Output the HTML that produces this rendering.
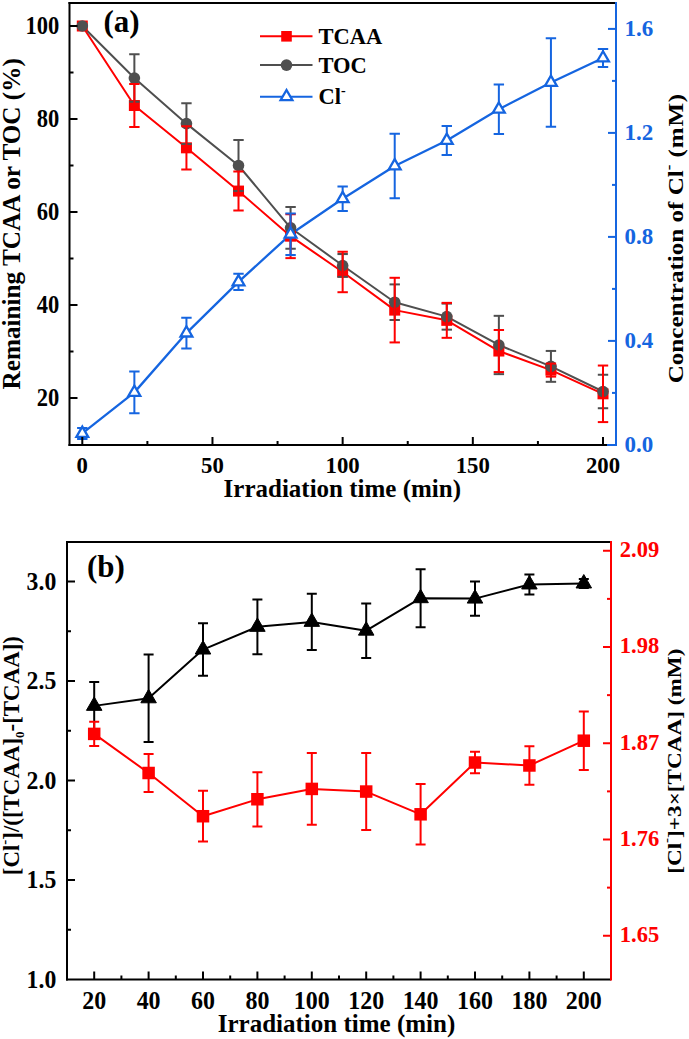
<!DOCTYPE html>
<html><head><meta charset="utf-8"><style>
html,body{margin:0;padding:0;background:#fff;}
svg{display:block;}
text{font-family:"Liberation Serif", serif;font-weight:bold;}
</style></head><body>
<svg width="689" height="1039" viewBox="0 0 689 1039">
<defs>
<clipPath id="clipA"><rect x="69.5" y="3" width="546.5" height="442"/></clipPath>
<clipPath id="clipB"><rect x="67" y="542" width="544" height="437.5"/></clipPath>
</defs>
<rect width="689" height="1039" fill="#fff"/>
<g clip-path="url(#clipA)">
<polyline points="82.30,26.00 134.37,105.51 186.44,147.83 238.51,191.07 290.58,236.18 342.65,271.99 394.72,310.12 446.79,320.35 498.86,351.03 550.93,370.10 603.00,393.82" fill="none" stroke="#ff0000" stroke-width="2" stroke-linejoin="round"/>
<polyline points="82.30,26.00 134.37,78.08 186.44,123.65 238.51,165.50 290.58,227.81 342.65,265.48 394.72,302.21 446.79,316.62 498.86,344.99 550.93,366.38 603.00,391.49" fill="none" stroke="#4f4f4f" stroke-width="2" stroke-linejoin="round"/>
<polyline points="82.30,433.46 134.37,392.38 186.44,333.10 238.51,281.88 290.58,234.30 342.65,198.68 394.72,165.92 446.79,140.44 498.86,109.24 550.93,82.46 603.00,58.02" fill="none" stroke="#1565e0" stroke-width="2.3" stroke-linejoin="round"/>
<rect x="76.80" y="20.50" width="11" height="11" fill="#ff0000"/>
<rect x="128.87" y="100.01" width="11" height="11" fill="#ff0000"/>
<rect x="180.94" y="142.33" width="11" height="11" fill="#ff0000"/>
<rect x="233.01" y="185.57" width="11" height="11" fill="#ff0000"/>
<rect x="285.08" y="230.68" width="11" height="11" fill="#ff0000"/>
<rect x="337.15" y="266.49" width="11" height="11" fill="#ff0000"/>
<rect x="389.22" y="304.62" width="11" height="11" fill="#ff0000"/>
<rect x="441.29" y="314.85" width="11" height="11" fill="#ff0000"/>
<rect x="493.36" y="345.53" width="11" height="11" fill="#ff0000"/>
<rect x="545.43" y="364.60" width="11" height="11" fill="#ff0000"/>
<rect x="597.50" y="388.32" width="11" height="11" fill="#ff0000"/>
<circle cx="82.30" cy="26.00" r="5.8" fill="#4f4f4f"/>
<circle cx="134.37" cy="78.08" r="5.8" fill="#4f4f4f"/>
<circle cx="186.44" cy="123.65" r="5.8" fill="#4f4f4f"/>
<circle cx="238.51" cy="165.50" r="5.8" fill="#4f4f4f"/>
<circle cx="290.58" cy="227.81" r="5.8" fill="#4f4f4f"/>
<circle cx="342.65" cy="265.48" r="5.8" fill="#4f4f4f"/>
<circle cx="394.72" cy="302.21" r="5.8" fill="#4f4f4f"/>
<circle cx="446.79" cy="316.62" r="5.8" fill="#4f4f4f"/>
<circle cx="498.86" cy="344.99" r="5.8" fill="#4f4f4f"/>
<circle cx="550.93" cy="366.38" r="5.8" fill="#4f4f4f"/>
<circle cx="603.00" cy="391.49" r="5.8" fill="#4f4f4f"/>
<line x1="134.37" y1="101.79" x2="134.37" y2="54.37" stroke="#4f4f4f" stroke-width="2" />
<line x1="129.17" y1="101.79" x2="139.57" y2="101.79" stroke="#4f4f4f" stroke-width="2" />
<line x1="129.17" y1="54.37" x2="139.57" y2="54.37" stroke="#4f4f4f" stroke-width="2" />
<line x1="186.44" y1="144.11" x2="186.44" y2="103.19" stroke="#4f4f4f" stroke-width="2" />
<line x1="181.24" y1="144.11" x2="191.64" y2="144.11" stroke="#4f4f4f" stroke-width="2" />
<line x1="181.24" y1="103.19" x2="191.64" y2="103.19" stroke="#4f4f4f" stroke-width="2" />
<line x1="238.51" y1="191.07" x2="238.51" y2="139.93" stroke="#4f4f4f" stroke-width="2" />
<line x1="233.31" y1="191.07" x2="243.71" y2="191.07" stroke="#4f4f4f" stroke-width="2" />
<line x1="233.31" y1="139.93" x2="243.71" y2="139.93" stroke="#4f4f4f" stroke-width="2" />
<line x1="290.58" y1="248.74" x2="290.58" y2="206.88" stroke="#4f4f4f" stroke-width="2" />
<line x1="285.38" y1="248.74" x2="295.78" y2="248.74" stroke="#4f4f4f" stroke-width="2" />
<line x1="285.38" y1="206.88" x2="295.78" y2="206.88" stroke="#4f4f4f" stroke-width="2" />
<line x1="342.65" y1="276.87" x2="342.65" y2="254.08" stroke="#4f4f4f" stroke-width="2" />
<line x1="337.45" y1="276.87" x2="347.85" y2="276.87" stroke="#4f4f4f" stroke-width="2" />
<line x1="337.45" y1="254.08" x2="347.85" y2="254.08" stroke="#4f4f4f" stroke-width="2" />
<line x1="394.72" y1="320.02" x2="394.72" y2="284.40" stroke="#4f4f4f" stroke-width="2" />
<line x1="389.52" y1="320.02" x2="399.92" y2="320.02" stroke="#4f4f4f" stroke-width="2" />
<line x1="389.52" y1="284.40" x2="399.92" y2="284.40" stroke="#4f4f4f" stroke-width="2" />
<line x1="446.79" y1="329.64" x2="446.79" y2="303.61" stroke="#4f4f4f" stroke-width="2" />
<line x1="441.59" y1="329.64" x2="451.99" y2="329.64" stroke="#4f4f4f" stroke-width="2" />
<line x1="441.59" y1="303.61" x2="451.99" y2="303.61" stroke="#4f4f4f" stroke-width="2" />
<line x1="498.86" y1="374.15" x2="498.86" y2="315.83" stroke="#4f4f4f" stroke-width="2" />
<line x1="493.66" y1="374.15" x2="504.06" y2="374.15" stroke="#4f4f4f" stroke-width="2" />
<line x1="493.66" y1="315.83" x2="504.06" y2="315.83" stroke="#4f4f4f" stroke-width="2" />
<line x1="550.93" y1="381.82" x2="550.93" y2="350.94" stroke="#4f4f4f" stroke-width="2" />
<line x1="545.73" y1="381.82" x2="556.13" y2="381.82" stroke="#4f4f4f" stroke-width="2" />
<line x1="545.73" y1="350.94" x2="556.13" y2="350.94" stroke="#4f4f4f" stroke-width="2" />
<line x1="603.00" y1="408.23" x2="603.00" y2="374.75" stroke="#4f4f4f" stroke-width="2" />
<line x1="597.80" y1="408.23" x2="608.20" y2="408.23" stroke="#4f4f4f" stroke-width="2" />
<line x1="597.80" y1="374.75" x2="608.20" y2="374.75" stroke="#4f4f4f" stroke-width="2" />
<line x1="134.37" y1="126.90" x2="134.37" y2="84.12" stroke="#ff0000" stroke-width="2" />
<line x1="129.17" y1="126.90" x2="139.57" y2="126.90" stroke="#ff0000" stroke-width="2" />
<line x1="129.17" y1="84.12" x2="139.57" y2="84.12" stroke="#ff0000" stroke-width="2" />
<line x1="186.44" y1="169.45" x2="186.44" y2="126.21" stroke="#ff0000" stroke-width="2" />
<line x1="181.24" y1="169.45" x2="191.64" y2="169.45" stroke="#ff0000" stroke-width="2" />
<line x1="181.24" y1="126.21" x2="191.64" y2="126.21" stroke="#ff0000" stroke-width="2" />
<line x1="238.51" y1="210.61" x2="238.51" y2="171.54" stroke="#ff0000" stroke-width="2" />
<line x1="233.31" y1="210.61" x2="243.71" y2="210.61" stroke="#ff0000" stroke-width="2" />
<line x1="233.31" y1="171.54" x2="243.71" y2="171.54" stroke="#ff0000" stroke-width="2" />
<line x1="290.58" y1="258.13" x2="290.58" y2="214.23" stroke="#ff0000" stroke-width="2" />
<line x1="285.38" y1="258.13" x2="295.78" y2="258.13" stroke="#ff0000" stroke-width="2" />
<line x1="285.38" y1="214.23" x2="295.78" y2="214.23" stroke="#ff0000" stroke-width="2" />
<line x1="342.65" y1="292.21" x2="342.65" y2="251.76" stroke="#ff0000" stroke-width="2" />
<line x1="337.45" y1="292.21" x2="347.85" y2="292.21" stroke="#ff0000" stroke-width="2" />
<line x1="337.45" y1="251.76" x2="347.85" y2="251.76" stroke="#ff0000" stroke-width="2" />
<line x1="394.72" y1="342.43" x2="394.72" y2="277.80" stroke="#ff0000" stroke-width="2" />
<line x1="389.52" y1="342.43" x2="399.92" y2="342.43" stroke="#ff0000" stroke-width="2" />
<line x1="389.52" y1="277.80" x2="399.92" y2="277.80" stroke="#ff0000" stroke-width="2" />
<line x1="446.79" y1="337.83" x2="446.79" y2="302.86" stroke="#ff0000" stroke-width="2" />
<line x1="441.59" y1="337.83" x2="451.99" y2="337.83" stroke="#ff0000" stroke-width="2" />
<line x1="441.59" y1="302.86" x2="451.99" y2="302.86" stroke="#ff0000" stroke-width="2" />
<line x1="498.86" y1="372.05" x2="498.86" y2="330.02" stroke="#ff0000" stroke-width="2" />
<line x1="493.66" y1="372.05" x2="504.06" y2="372.05" stroke="#ff0000" stroke-width="2" />
<line x1="493.66" y1="330.02" x2="504.06" y2="330.02" stroke="#ff0000" stroke-width="2" />
<line x1="550.93" y1="376.61" x2="550.93" y2="363.59" stroke="#ff0000" stroke-width="2" />
<line x1="545.73" y1="376.61" x2="556.13" y2="376.61" stroke="#ff0000" stroke-width="2" />
<line x1="545.73" y1="363.59" x2="556.13" y2="363.59" stroke="#ff0000" stroke-width="2" />
<line x1="603.00" y1="422.09" x2="603.00" y2="365.54" stroke="#ff0000" stroke-width="2" />
<line x1="597.80" y1="422.09" x2="608.20" y2="422.09" stroke="#ff0000" stroke-width="2" />
<line x1="597.80" y1="365.54" x2="608.20" y2="365.54" stroke="#ff0000" stroke-width="2" />
<line x1="82.30" y1="438.92" x2="82.30" y2="428.00" stroke="#1565e0" stroke-width="2" />
<line x1="77.10" y1="438.92" x2="87.50" y2="438.92" stroke="#1565e0" stroke-width="2" />
<line x1="77.10" y1="428.00" x2="87.50" y2="428.00" stroke="#1565e0" stroke-width="2" />
<line x1="134.37" y1="413.18" x2="134.37" y2="371.58" stroke="#1565e0" stroke-width="2" />
<line x1="129.17" y1="413.18" x2="139.57" y2="413.18" stroke="#1565e0" stroke-width="2" />
<line x1="129.17" y1="371.58" x2="139.57" y2="371.58" stroke="#1565e0" stroke-width="2" />
<line x1="186.44" y1="348.44" x2="186.44" y2="317.76" stroke="#1565e0" stroke-width="2" />
<line x1="181.24" y1="348.44" x2="191.64" y2="348.44" stroke="#1565e0" stroke-width="2" />
<line x1="181.24" y1="317.76" x2="191.64" y2="317.76" stroke="#1565e0" stroke-width="2" />
<line x1="238.51" y1="289.94" x2="238.51" y2="273.82" stroke="#1565e0" stroke-width="2" />
<line x1="233.31" y1="289.94" x2="243.71" y2="289.94" stroke="#1565e0" stroke-width="2" />
<line x1="233.31" y1="273.82" x2="243.71" y2="273.82" stroke="#1565e0" stroke-width="2" />
<line x1="290.58" y1="255.10" x2="290.58" y2="213.50" stroke="#1565e0" stroke-width="2" />
<line x1="285.38" y1="255.10" x2="295.78" y2="255.10" stroke="#1565e0" stroke-width="2" />
<line x1="285.38" y1="213.50" x2="295.78" y2="213.50" stroke="#1565e0" stroke-width="2" />
<line x1="342.65" y1="210.90" x2="342.65" y2="186.46" stroke="#1565e0" stroke-width="2" />
<line x1="337.45" y1="210.90" x2="347.85" y2="210.90" stroke="#1565e0" stroke-width="2" />
<line x1="337.45" y1="186.46" x2="347.85" y2="186.46" stroke="#1565e0" stroke-width="2" />
<line x1="394.72" y1="198.16" x2="394.72" y2="133.68" stroke="#1565e0" stroke-width="2" />
<line x1="389.52" y1="198.16" x2="399.92" y2="198.16" stroke="#1565e0" stroke-width="2" />
<line x1="389.52" y1="133.68" x2="399.92" y2="133.68" stroke="#1565e0" stroke-width="2" />
<line x1="446.79" y1="155.00" x2="446.79" y2="125.88" stroke="#1565e0" stroke-width="2" />
<line x1="441.59" y1="155.00" x2="451.99" y2="155.00" stroke="#1565e0" stroke-width="2" />
<line x1="441.59" y1="125.88" x2="451.99" y2="125.88" stroke="#1565e0" stroke-width="2" />
<line x1="498.86" y1="133.94" x2="498.86" y2="84.54" stroke="#1565e0" stroke-width="2" />
<line x1="493.66" y1="133.94" x2="504.06" y2="133.94" stroke="#1565e0" stroke-width="2" />
<line x1="493.66" y1="84.54" x2="504.06" y2="84.54" stroke="#1565e0" stroke-width="2" />
<line x1="550.93" y1="126.66" x2="550.93" y2="38.26" stroke="#1565e0" stroke-width="2" />
<line x1="545.73" y1="126.66" x2="556.13" y2="126.66" stroke="#1565e0" stroke-width="2" />
<line x1="545.73" y1="38.26" x2="556.13" y2="38.26" stroke="#1565e0" stroke-width="2" />
<line x1="603.00" y1="67.12" x2="603.00" y2="48.92" stroke="#1565e0" stroke-width="2" />
<line x1="597.80" y1="67.12" x2="608.20" y2="67.12" stroke="#1565e0" stroke-width="2" />
<line x1="597.80" y1="48.92" x2="608.20" y2="48.92" stroke="#1565e0" stroke-width="2" />
<polygon points="82.30,426.65 76.40,436.87 88.20,436.87" fill="#fff" stroke="#1565e0" stroke-width="2.3" stroke-linejoin="miter"/>
<polygon points="134.37,385.57 128.47,395.79 140.27,395.79" fill="#fff" stroke="#1565e0" stroke-width="2.3" stroke-linejoin="miter"/>
<polygon points="186.44,326.29 180.54,336.51 192.34,336.51" fill="#fff" stroke="#1565e0" stroke-width="2.3" stroke-linejoin="miter"/>
<polygon points="238.51,275.07 232.61,285.29 244.41,285.29" fill="#fff" stroke="#1565e0" stroke-width="2.3" stroke-linejoin="miter"/>
<polygon points="290.58,227.49 284.68,237.71 296.48,237.71" fill="#fff" stroke="#1565e0" stroke-width="2.3" stroke-linejoin="miter"/>
<polygon points="342.65,191.87 336.75,202.09 348.55,202.09" fill="#fff" stroke="#1565e0" stroke-width="2.3" stroke-linejoin="miter"/>
<polygon points="394.72,159.11 388.82,169.33 400.62,169.33" fill="#fff" stroke="#1565e0" stroke-width="2.3" stroke-linejoin="miter"/>
<polygon points="446.79,133.63 440.89,143.85 452.69,143.85" fill="#fff" stroke="#1565e0" stroke-width="2.3" stroke-linejoin="miter"/>
<polygon points="498.86,102.43 492.96,112.65 504.76,112.65" fill="#fff" stroke="#1565e0" stroke-width="2.3" stroke-linejoin="miter"/>
<polygon points="550.93,75.65 545.03,85.87 556.83,85.87" fill="#fff" stroke="#1565e0" stroke-width="2.3" stroke-linejoin="miter"/>
<polygon points="603.00,51.21 597.10,61.43 608.90,61.43" fill="#fff" stroke="#1565e0" stroke-width="2.3" stroke-linejoin="miter"/>
</g>
<line x1="82.30" y1="445.00" x2="82.30" y2="437.00" stroke="#000000" stroke-width="2" />
<line x1="147.39" y1="445.00" x2="147.39" y2="441.00" stroke="#000000" stroke-width="2" />
<line x1="212.47" y1="445.00" x2="212.47" y2="437.00" stroke="#000000" stroke-width="2" />
<line x1="277.56" y1="445.00" x2="277.56" y2="441.00" stroke="#000000" stroke-width="2" />
<line x1="342.65" y1="445.00" x2="342.65" y2="437.00" stroke="#000000" stroke-width="2" />
<line x1="407.74" y1="445.00" x2="407.74" y2="441.00" stroke="#000000" stroke-width="2" />
<line x1="472.82" y1="445.00" x2="472.82" y2="437.00" stroke="#000000" stroke-width="2" />
<line x1="537.91" y1="445.00" x2="537.91" y2="441.00" stroke="#000000" stroke-width="2" />
<line x1="603.00" y1="445.00" x2="603.00" y2="437.00" stroke="#000000" stroke-width="2" />
<line x1="69.50" y1="398.00" x2="77.50" y2="398.00" stroke="#000000" stroke-width="2" />
<line x1="69.50" y1="351.50" x2="73.50" y2="351.50" stroke="#000000" stroke-width="2" />
<line x1="69.50" y1="305.00" x2="77.50" y2="305.00" stroke="#000000" stroke-width="2" />
<line x1="69.50" y1="258.50" x2="73.50" y2="258.50" stroke="#000000" stroke-width="2" />
<line x1="69.50" y1="212.00" x2="77.50" y2="212.00" stroke="#000000" stroke-width="2" />
<line x1="69.50" y1="165.50" x2="73.50" y2="165.50" stroke="#000000" stroke-width="2" />
<line x1="69.50" y1="119.00" x2="77.50" y2="119.00" stroke="#000000" stroke-width="2" />
<line x1="69.50" y1="72.50" x2="73.50" y2="72.50" stroke="#000000" stroke-width="2" />
<line x1="69.50" y1="26.00" x2="77.50" y2="26.00" stroke="#000000" stroke-width="2" />
<line x1="616.00" y1="392.90" x2="612.00" y2="392.90" stroke="#1565e0" stroke-width="2" />
<line x1="616.00" y1="340.90" x2="608.00" y2="340.90" stroke="#1565e0" stroke-width="2" />
<line x1="616.00" y1="288.90" x2="612.00" y2="288.90" stroke="#1565e0" stroke-width="2" />
<line x1="616.00" y1="236.90" x2="608.00" y2="236.90" stroke="#1565e0" stroke-width="2" />
<line x1="616.00" y1="184.90" x2="612.00" y2="184.90" stroke="#1565e0" stroke-width="2" />
<line x1="616.00" y1="132.90" x2="608.00" y2="132.90" stroke="#1565e0" stroke-width="2" />
<line x1="616.00" y1="80.90" x2="612.00" y2="80.90" stroke="#1565e0" stroke-width="2" />
<line x1="616.00" y1="28.90" x2="608.00" y2="28.90" stroke="#1565e0" stroke-width="2" />
<line x1="68.50" y1="3.00" x2="616.00" y2="3.00" stroke="#000000" stroke-width="2" />
<line x1="69.50" y1="2.00" x2="69.50" y2="446.00" stroke="#000000" stroke-width="2" />
<line x1="68.50" y1="445.00" x2="607.00" y2="445.00" stroke="#000000" stroke-width="2" />
<line x1="607.00" y1="445.00" x2="617.00" y2="445.00" stroke="#1565e0" stroke-width="2" />
<line x1="616.00" y1="2.00" x2="616.00" y2="446.00" stroke="#1565e0" stroke-width="2" />
<text transform="translate(82.30,472.80) scale(0.95,1)" font-size="24" fill="#000" text-anchor="middle" >0</text>
<text transform="translate(212.47,472.80) scale(0.95,1)" font-size="24" fill="#000" text-anchor="middle" >50</text>
<text transform="translate(342.65,472.80) scale(0.95,1)" font-size="24" fill="#000" text-anchor="middle" >100</text>
<text transform="translate(472.82,472.80) scale(0.95,1)" font-size="24" fill="#000" text-anchor="middle" >150</text>
<text transform="translate(603.00,472.80) scale(0.95,1)" font-size="24" fill="#000" text-anchor="middle" >200</text>
<text transform="translate(59.30,405.70) scale(0.92,1)" font-size="24.5" fill="#000" text-anchor="end" >20</text>
<text transform="translate(59.30,312.70) scale(0.92,1)" font-size="24.5" fill="#000" text-anchor="end" >40</text>
<text transform="translate(59.30,219.70) scale(0.92,1)" font-size="24.5" fill="#000" text-anchor="end" >60</text>
<text transform="translate(59.30,126.70) scale(0.92,1)" font-size="24.5" fill="#000" text-anchor="end" >80</text>
<text transform="translate(59.30,33.70) scale(0.92,1)" font-size="24.5" fill="#000" text-anchor="end" >100</text>
<text x="624.50" y="451.70" font-size="23" fill="#1565e0" text-anchor="start" >0.0</text>
<text x="624.50" y="347.70" font-size="23" fill="#1565e0" text-anchor="start" >0.4</text>
<text x="624.50" y="243.70" font-size="23" fill="#1565e0" text-anchor="start" >0.8</text>
<text x="624.50" y="139.70" font-size="23" fill="#1565e0" text-anchor="start" >1.2</text>
<text x="624.50" y="35.70" font-size="23" fill="#1565e0" text-anchor="start" >1.6</text>
<text x="342.30" y="496.60" font-size="25" fill="#000" text-anchor="middle" >Irradiation time (min)</text>
<text transform="translate(20.2,223.8) rotate(-90)" font-size="25.2" text-anchor="middle">Remaining TCAA or TOC (%)</text>
<text transform="translate(682.6,383.3) rotate(-90) scale(1,0.84)" font-size="25.1" text-anchor="start">Concentration of Cl<tspan font-size="17" dy="-12">-</tspan><tspan dy="12" letter-spacing="0.8"> (mM)</tspan></text>
<text x="103.50" y="31.50" font-size="31" fill="#000" text-anchor="start" >(a)</text>
<line x1="260.00" y1="36.30" x2="312.50" y2="36.30" stroke="#ff0000" stroke-width="2" />
<rect x="281.2" y="30.999999999999996" width="10.6" height="10.6" fill="#ff0000"/>
<text x="318.4" y="43.8" font-size="22.5">TCAA</text>
<line x1="260.00" y1="65.10" x2="312.50" y2="65.10" stroke="#4f4f4f" stroke-width="2" />
<circle cx="286.5" cy="65.1" r="5.8" fill="#4f4f4f"/>
<text x="318.4" y="72.6" font-size="22.5">TOC</text>
<line x1="260.00" y1="96.80" x2="312.50" y2="96.80" stroke="#1565e0" stroke-width="2" />
<polygon points="286.50,89.99 280.60,100.21 292.40,100.21" fill="#fff" stroke="#1565e0" stroke-width="2.3" stroke-linejoin="miter"/>
<text x="318.4" y="104.3" font-size="22.5">Cl<tspan font-size="14" dy="-9">-</tspan></text>
<g clip-path="url(#clipB)">
<polyline points="94.20,705.88 148.60,698.31 203.00,649.56 257.40,626.87 311.80,621.90 366.20,630.65 420.60,598.22 475.00,598.61 529.40,584.49 583.80,583.49" fill="none" stroke="#000000" stroke-width="2" stroke-linejoin="round"/>
<polyline points="94.20,733.89 148.60,773.00 203.00,816.23 257.40,799.25 311.80,788.92 366.20,791.55 420.60,814.30 475.00,762.50 529.40,765.48 583.80,740.71" fill="none" stroke="#ff0000" stroke-width="2" stroke-linejoin="round"/>
<line x1="94.20" y1="729.75" x2="94.20" y2="682.00" stroke="#000000" stroke-width="2" />
<line x1="89.20" y1="729.75" x2="99.20" y2="729.75" stroke="#000000" stroke-width="2" />
<line x1="89.20" y1="682.00" x2="99.20" y2="682.00" stroke="#000000" stroke-width="2" />
<line x1="148.60" y1="742.09" x2="148.60" y2="654.53" stroke="#000000" stroke-width="2" />
<line x1="143.60" y1="742.09" x2="153.60" y2="742.09" stroke="#000000" stroke-width="2" />
<line x1="143.60" y1="654.53" x2="153.60" y2="654.53" stroke="#000000" stroke-width="2" />
<line x1="203.00" y1="675.83" x2="203.00" y2="623.29" stroke="#000000" stroke-width="2" />
<line x1="198.00" y1="675.83" x2="208.00" y2="675.83" stroke="#000000" stroke-width="2" />
<line x1="198.00" y1="623.29" x2="208.00" y2="623.29" stroke="#000000" stroke-width="2" />
<line x1="257.40" y1="654.33" x2="257.40" y2="599.41" stroke="#000000" stroke-width="2" />
<line x1="252.40" y1="654.33" x2="262.40" y2="654.33" stroke="#000000" stroke-width="2" />
<line x1="252.40" y1="599.41" x2="262.40" y2="599.41" stroke="#000000" stroke-width="2" />
<line x1="311.80" y1="649.96" x2="311.80" y2="593.84" stroke="#000000" stroke-width="2" />
<line x1="306.80" y1="649.96" x2="316.80" y2="649.96" stroke="#000000" stroke-width="2" />
<line x1="306.80" y1="593.84" x2="316.80" y2="593.84" stroke="#000000" stroke-width="2" />
<line x1="366.20" y1="657.92" x2="366.20" y2="603.39" stroke="#000000" stroke-width="2" />
<line x1="361.20" y1="657.92" x2="371.20" y2="657.92" stroke="#000000" stroke-width="2" />
<line x1="361.20" y1="603.39" x2="371.20" y2="603.39" stroke="#000000" stroke-width="2" />
<line x1="420.60" y1="627.27" x2="420.60" y2="569.16" stroke="#000000" stroke-width="2" />
<line x1="415.60" y1="627.27" x2="425.60" y2="627.27" stroke="#000000" stroke-width="2" />
<line x1="415.60" y1="569.16" x2="425.60" y2="569.16" stroke="#000000" stroke-width="2" />
<line x1="475.00" y1="615.73" x2="475.00" y2="581.50" stroke="#000000" stroke-width="2" />
<line x1="470.00" y1="615.73" x2="480.00" y2="615.73" stroke="#000000" stroke-width="2" />
<line x1="470.00" y1="581.50" x2="480.00" y2="581.50" stroke="#000000" stroke-width="2" />
<line x1="529.40" y1="594.43" x2="529.40" y2="574.54" stroke="#000000" stroke-width="2" />
<line x1="524.40" y1="594.43" x2="534.40" y2="594.43" stroke="#000000" stroke-width="2" />
<line x1="524.40" y1="574.54" x2="534.40" y2="574.54" stroke="#000000" stroke-width="2" />
<line x1="583.80" y1="588.07" x2="583.80" y2="578.91" stroke="#000000" stroke-width="2" />
<line x1="578.80" y1="588.07" x2="588.80" y2="588.07" stroke="#000000" stroke-width="2" />
<line x1="578.80" y1="578.91" x2="588.80" y2="578.91" stroke="#000000" stroke-width="2" />
<polygon points="94.20,696.93 86.45,710.35 101.95,710.35" fill="#000000" stroke="#000000" stroke-width="1" stroke-linejoin="miter"/>
<polygon points="148.60,689.36 140.85,702.79 156.35,702.79" fill="#000000" stroke="#000000" stroke-width="1" stroke-linejoin="miter"/>
<polygon points="203.00,640.61 195.25,654.03 210.75,654.03" fill="#000000" stroke="#000000" stroke-width="1" stroke-linejoin="miter"/>
<polygon points="257.40,617.92 249.65,631.35 265.15,631.35" fill="#000000" stroke="#000000" stroke-width="1" stroke-linejoin="miter"/>
<polygon points="311.80,612.95 304.05,626.37 319.55,626.37" fill="#000000" stroke="#000000" stroke-width="1" stroke-linejoin="miter"/>
<polygon points="366.20,621.70 358.45,635.13 373.95,635.13" fill="#000000" stroke="#000000" stroke-width="1" stroke-linejoin="miter"/>
<polygon points="420.60,589.27 412.85,602.69 428.35,602.69" fill="#000000" stroke="#000000" stroke-width="1" stroke-linejoin="miter"/>
<polygon points="475.00,589.67 467.25,603.09 482.75,603.09" fill="#000000" stroke="#000000" stroke-width="1" stroke-linejoin="miter"/>
<polygon points="529.40,575.54 521.65,588.96 537.15,588.96" fill="#000000" stroke="#000000" stroke-width="1" stroke-linejoin="miter"/>
<polygon points="583.80,574.54 576.05,587.96 591.55,587.96" fill="#000000" stroke="#000000" stroke-width="1" stroke-linejoin="miter"/>
<line x1="94.20" y1="746.05" x2="94.20" y2="721.73" stroke="#ff0000" stroke-width="2" />
<line x1="89.20" y1="746.05" x2="99.20" y2="746.05" stroke="#ff0000" stroke-width="2" />
<line x1="89.20" y1="721.73" x2="99.20" y2="721.73" stroke="#ff0000" stroke-width="2" />
<line x1="148.60" y1="791.99" x2="148.60" y2="754.01" stroke="#ff0000" stroke-width="2" />
<line x1="143.60" y1="791.99" x2="153.60" y2="791.99" stroke="#ff0000" stroke-width="2" />
<line x1="143.60" y1="754.01" x2="153.60" y2="754.01" stroke="#ff0000" stroke-width="2" />
<line x1="203.00" y1="841.60" x2="203.00" y2="790.85" stroke="#ff0000" stroke-width="2" />
<line x1="198.00" y1="841.60" x2="208.00" y2="841.60" stroke="#ff0000" stroke-width="2" />
<line x1="198.00" y1="790.85" x2="208.00" y2="790.85" stroke="#ff0000" stroke-width="2" />
<line x1="257.40" y1="826.38" x2="257.40" y2="772.13" stroke="#ff0000" stroke-width="2" />
<line x1="252.40" y1="826.38" x2="262.40" y2="826.38" stroke="#ff0000" stroke-width="2" />
<line x1="252.40" y1="772.13" x2="262.40" y2="772.13" stroke="#ff0000" stroke-width="2" />
<line x1="311.80" y1="824.80" x2="311.80" y2="753.05" stroke="#ff0000" stroke-width="2" />
<line x1="306.80" y1="824.80" x2="316.80" y2="824.80" stroke="#ff0000" stroke-width="2" />
<line x1="306.80" y1="753.05" x2="316.80" y2="753.05" stroke="#ff0000" stroke-width="2" />
<line x1="366.20" y1="830.05" x2="366.20" y2="753.05" stroke="#ff0000" stroke-width="2" />
<line x1="361.20" y1="830.05" x2="371.20" y2="830.05" stroke="#ff0000" stroke-width="2" />
<line x1="361.20" y1="753.05" x2="371.20" y2="753.05" stroke="#ff0000" stroke-width="2" />
<line x1="420.60" y1="844.58" x2="420.60" y2="784.03" stroke="#ff0000" stroke-width="2" />
<line x1="415.60" y1="844.58" x2="425.60" y2="844.58" stroke="#ff0000" stroke-width="2" />
<line x1="415.60" y1="784.03" x2="425.60" y2="784.03" stroke="#ff0000" stroke-width="2" />
<line x1="475.00" y1="773.26" x2="475.00" y2="751.74" stroke="#ff0000" stroke-width="2" />
<line x1="470.00" y1="773.26" x2="480.00" y2="773.26" stroke="#ff0000" stroke-width="2" />
<line x1="470.00" y1="751.74" x2="480.00" y2="751.74" stroke="#ff0000" stroke-width="2" />
<line x1="529.40" y1="784.73" x2="529.40" y2="746.23" stroke="#ff0000" stroke-width="2" />
<line x1="524.40" y1="784.73" x2="534.40" y2="784.73" stroke="#ff0000" stroke-width="2" />
<line x1="524.40" y1="746.23" x2="534.40" y2="746.23" stroke="#ff0000" stroke-width="2" />
<line x1="583.80" y1="770.03" x2="583.80" y2="711.40" stroke="#ff0000" stroke-width="2" />
<line x1="578.80" y1="770.03" x2="588.80" y2="770.03" stroke="#ff0000" stroke-width="2" />
<line x1="578.80" y1="711.40" x2="588.80" y2="711.40" stroke="#ff0000" stroke-width="2" />
<rect x="87.95" y="727.64" width="12.5" height="12.5" fill="#ff0000"/>
<rect x="142.35" y="766.75" width="12.5" height="12.5" fill="#ff0000"/>
<rect x="196.75" y="809.98" width="12.5" height="12.5" fill="#ff0000"/>
<rect x="251.15" y="793.00" width="12.5" height="12.5" fill="#ff0000"/>
<rect x="305.55" y="782.67" width="12.5" height="12.5" fill="#ff0000"/>
<rect x="359.95" y="785.30" width="12.5" height="12.5" fill="#ff0000"/>
<rect x="414.35" y="808.05" width="12.5" height="12.5" fill="#ff0000"/>
<rect x="468.75" y="756.25" width="12.5" height="12.5" fill="#ff0000"/>
<rect x="523.15" y="759.23" width="12.5" height="12.5" fill="#ff0000"/>
<rect x="577.55" y="734.46" width="12.5" height="12.5" fill="#ff0000"/>
</g>
<line x1="94.20" y1="979.50" x2="94.20" y2="971.50" stroke="#000000" stroke-width="2" />
<line x1="121.40" y1="979.50" x2="121.40" y2="975.50" stroke="#000000" stroke-width="2" />
<line x1="148.60" y1="979.50" x2="148.60" y2="971.50" stroke="#000000" stroke-width="2" />
<line x1="175.80" y1="979.50" x2="175.80" y2="975.50" stroke="#000000" stroke-width="2" />
<line x1="203.00" y1="979.50" x2="203.00" y2="971.50" stroke="#000000" stroke-width="2" />
<line x1="230.20" y1="979.50" x2="230.20" y2="975.50" stroke="#000000" stroke-width="2" />
<line x1="257.40" y1="979.50" x2="257.40" y2="971.50" stroke="#000000" stroke-width="2" />
<line x1="284.60" y1="979.50" x2="284.60" y2="975.50" stroke="#000000" stroke-width="2" />
<line x1="311.80" y1="979.50" x2="311.80" y2="971.50" stroke="#000000" stroke-width="2" />
<line x1="339.00" y1="979.50" x2="339.00" y2="975.50" stroke="#000000" stroke-width="2" />
<line x1="366.20" y1="979.50" x2="366.20" y2="971.50" stroke="#000000" stroke-width="2" />
<line x1="393.40" y1="979.50" x2="393.40" y2="975.50" stroke="#000000" stroke-width="2" />
<line x1="420.60" y1="979.50" x2="420.60" y2="971.50" stroke="#000000" stroke-width="2" />
<line x1="447.80" y1="979.50" x2="447.80" y2="975.50" stroke="#000000" stroke-width="2" />
<line x1="475.00" y1="979.50" x2="475.00" y2="971.50" stroke="#000000" stroke-width="2" />
<line x1="502.20" y1="979.50" x2="502.20" y2="975.50" stroke="#000000" stroke-width="2" />
<line x1="529.40" y1="979.50" x2="529.40" y2="971.50" stroke="#000000" stroke-width="2" />
<line x1="556.60" y1="979.50" x2="556.60" y2="975.50" stroke="#000000" stroke-width="2" />
<line x1="583.80" y1="979.50" x2="583.80" y2="971.50" stroke="#000000" stroke-width="2" />
<line x1="67.00" y1="929.75" x2="71.00" y2="929.75" stroke="#000000" stroke-width="2" />
<line x1="67.00" y1="880.00" x2="75.00" y2="880.00" stroke="#000000" stroke-width="2" />
<line x1="67.00" y1="830.25" x2="71.00" y2="830.25" stroke="#000000" stroke-width="2" />
<line x1="67.00" y1="780.50" x2="75.00" y2="780.50" stroke="#000000" stroke-width="2" />
<line x1="67.00" y1="730.75" x2="71.00" y2="730.75" stroke="#000000" stroke-width="2" />
<line x1="67.00" y1="681.00" x2="75.00" y2="681.00" stroke="#000000" stroke-width="2" />
<line x1="67.00" y1="631.25" x2="71.00" y2="631.25" stroke="#000000" stroke-width="2" />
<line x1="67.00" y1="581.50" x2="75.00" y2="581.50" stroke="#000000" stroke-width="2" />
<line x1="611.00" y1="935.75" x2="603.00" y2="935.75" stroke="#ff0000" stroke-width="2" />
<line x1="611.00" y1="887.63" x2="607.00" y2="887.63" stroke="#ff0000" stroke-width="2" />
<line x1="611.00" y1="839.50" x2="603.00" y2="839.50" stroke="#ff0000" stroke-width="2" />
<line x1="611.00" y1="791.38" x2="607.00" y2="791.38" stroke="#ff0000" stroke-width="2" />
<line x1="611.00" y1="743.25" x2="603.00" y2="743.25" stroke="#ff0000" stroke-width="2" />
<line x1="611.00" y1="695.13" x2="607.00" y2="695.13" stroke="#ff0000" stroke-width="2" />
<line x1="611.00" y1="647.00" x2="603.00" y2="647.00" stroke="#ff0000" stroke-width="2" />
<line x1="611.00" y1="598.88" x2="607.00" y2="598.88" stroke="#ff0000" stroke-width="2" />
<line x1="611.00" y1="550.75" x2="603.00" y2="550.75" stroke="#ff0000" stroke-width="2" />
<line x1="66.00" y1="542.00" x2="611.00" y2="542.00" stroke="#000000" stroke-width="2" />
<line x1="67.00" y1="541.00" x2="67.00" y2="980.50" stroke="#000000" stroke-width="2" />
<line x1="66.00" y1="979.50" x2="611.00" y2="979.50" stroke="#000000" stroke-width="2" />
<line x1="611.00" y1="541.00" x2="611.00" y2="980.50" stroke="#ff0000" stroke-width="2" />
<text transform="translate(94.20,1009.00) scale(0.94,1)" font-size="25.5" fill="#000" text-anchor="middle" >20</text>
<text transform="translate(148.60,1009.00) scale(0.94,1)" font-size="25.5" fill="#000" text-anchor="middle" >40</text>
<text transform="translate(203.00,1009.00) scale(0.94,1)" font-size="25.5" fill="#000" text-anchor="middle" >60</text>
<text transform="translate(257.40,1009.00) scale(0.94,1)" font-size="25.5" fill="#000" text-anchor="middle" >80</text>
<text transform="translate(311.80,1009.00) scale(0.94,1)" font-size="25.5" fill="#000" text-anchor="middle" >100</text>
<text transform="translate(366.20,1009.00) scale(0.94,1)" font-size="25.5" fill="#000" text-anchor="middle" >120</text>
<text transform="translate(420.60,1009.00) scale(0.94,1)" font-size="25.5" fill="#000" text-anchor="middle" >140</text>
<text transform="translate(475.00,1009.00) scale(0.94,1)" font-size="25.5" fill="#000" text-anchor="middle" >160</text>
<text transform="translate(529.40,1009.00) scale(0.94,1)" font-size="25.5" fill="#000" text-anchor="middle" >180</text>
<text transform="translate(583.80,1009.00) scale(0.94,1)" font-size="25.5" fill="#000" text-anchor="middle" >200</text>
<text transform="translate(56.30,987.70) scale(0.95,1)" font-size="25" fill="#000" text-anchor="end" >1.0</text>
<text transform="translate(56.30,888.20) scale(0.95,1)" font-size="25" fill="#000" text-anchor="end" >1.5</text>
<text transform="translate(56.30,788.70) scale(0.95,1)" font-size="25" fill="#000" text-anchor="end" >2.0</text>
<text transform="translate(56.30,689.20) scale(0.95,1)" font-size="25" fill="#000" text-anchor="end" >2.5</text>
<text transform="translate(56.30,589.70) scale(0.95,1)" font-size="25" fill="#000" text-anchor="end" >3.0</text>
<text transform="translate(619.80,942.05) scale(0.96,1)" font-size="23.5" fill="#ff0000" text-anchor="start" >1.65</text>
<text transform="translate(619.80,845.80) scale(0.96,1)" font-size="23.5" fill="#ff0000" text-anchor="start" >1.76</text>
<text transform="translate(619.80,749.55) scale(0.96,1)" font-size="23.5" fill="#ff0000" text-anchor="start" >1.87</text>
<text transform="translate(619.80,653.30) scale(0.96,1)" font-size="23.5" fill="#ff0000" text-anchor="start" >1.98</text>
<text transform="translate(619.80,557.05) scale(0.96,1)" font-size="23.5" fill="#ff0000" text-anchor="start" >2.09</text>
<text x="336.50" y="1032.00" font-size="25" fill="#000" text-anchor="middle" >Irradiation time (min)</text>
<text transform="translate(18.5,755.6) rotate(-90)" font-size="22.9" text-anchor="middle">[Cl<tspan font-size="15" dy="-10">-</tspan><tspan dy="10">]/([TCAA]</tspan><tspan font-size="13" dy="5">0</tspan><tspan dy="-5">-[TCAA])</tspan></text>
<text transform="translate(680.5,761.2) rotate(-90) scale(1,0.85)" font-size="23.2" text-anchor="middle">[Cl<tspan font-size="15" dy="-11">-</tspan><tspan dy="11">]+3×[TCAA] (mM)</tspan></text>
<text x="87.00" y="577.00" font-size="31" fill="#000" text-anchor="start" >(b)</text>
</svg></body></html>
